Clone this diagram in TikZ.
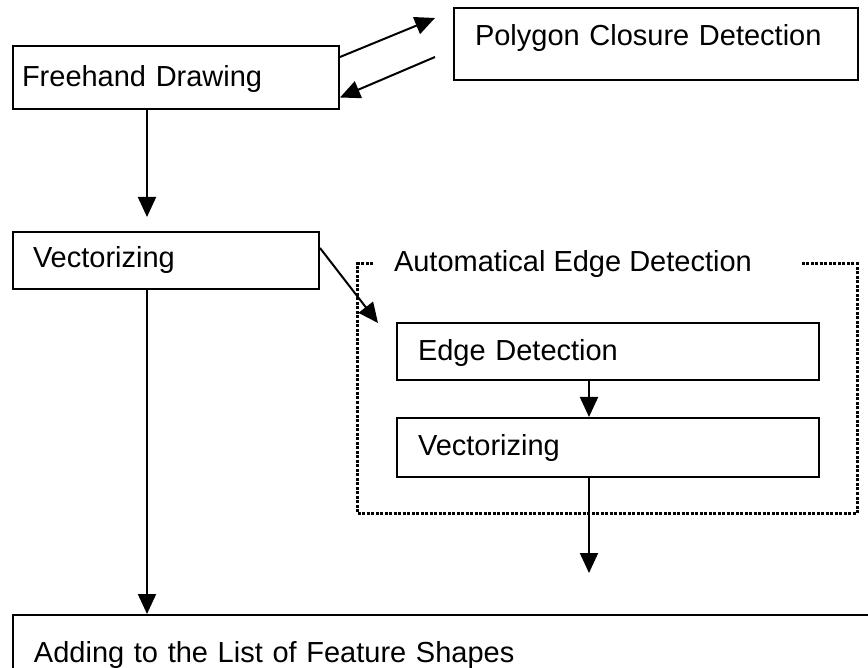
\documentclass[tikz,border=0pt]{standalone}
\usepackage{fontspec}
\setmainfont{Liberation Sans}
\usetikzlibrary{arrows.meta}

\begin{document}
\begin{tikzpicture}[x=1pt, y=-1pt, >={Triangle[length=20pt,width=18pt]}, line width=2pt,
    box/.style={draw, anchor=north west, align=left, inner ysep=0pt, font=\fontsize{29}{34}\selectfont},
    frame/.style={line width=3pt, dash pattern=on 3pt off 1.5pt}]

    \useasboundingbox (0,0) rectangle (868,668);
    \clip (0,0) rectangle (868,668);

    \draw(12,45) node[box, text width=308pt, inner xsep=9pt, text height=41pt, text depth=22pt] (fhd) {Freehand Drawing};
    \draw(453,7) node[box, text width=362pt, inner xsep=21pt, text height=38pt, text depth=34pt] (pcd) {Polygon Closure Detection};
    \draw(12,231) node[box, text width=266pt, inner xsep=20pt, text height=36pt, text depth=21pt] (vec) {Vectorizing};
    \draw(396,322) node[box, text width=380pt, inner xsep=21pt, text height=38pt, text depth=19pt] (edg) {Edge Detection};
    \draw(396,417) node[box, text width=380pt, inner xsep=21pt, text height=37pt, text depth=22pt] (vc2) {Vectorizing};
    \draw(12,614) node[box, text width=858pt, inner xsep=21pt, text height=47pt, text depth=39pt] (add) {Adding to the List of Feature Shapes};

    % dotted group
    \draw(393,272) node[anchor=base west, inner sep=0pt, font=\fontsize{29}{34}\selectfont] (aed) {Automatical Edge Detection};
    \draw[frame] (373,264) -| (357,513) -| (857,264) -- (802,264);

    \draw[->] ([yshift=-12pt]fhd.north east) -- ([xshift=-18pt,yshift=-11pt]pcd.north west);
    \draw[->] ([xshift=-18pt,yshift=-50pt]pcd.north west) -- ([yshift=-20pt]fhd.east);
    \draw[->, shorten >=14pt] ([xshift=-29pt]fhd.south) -- ([xshift=-29pt]fhd.south |- vec.north);
    \draw[->] ([yshift=-17pt]vec.north east) -- ([xshift=-18pt,yshift=-1pt]edg.north west);
    \draw[->] ([xshift=-19pt]edg.south) -- ([xshift=-19pt]edg.south |- vc2.north);
    \coordinate (out) at ([xshift=-19pt,yshift=-95pt]vc2.south);
    \draw[->] ([xshift=-19pt]vc2.south) -- (out);
    \draw[->] ([xshift=-19pt]vec.south) -- ([xshift=-19pt]vec.south |- add.north);

\end{tikzpicture}
\end{document}
